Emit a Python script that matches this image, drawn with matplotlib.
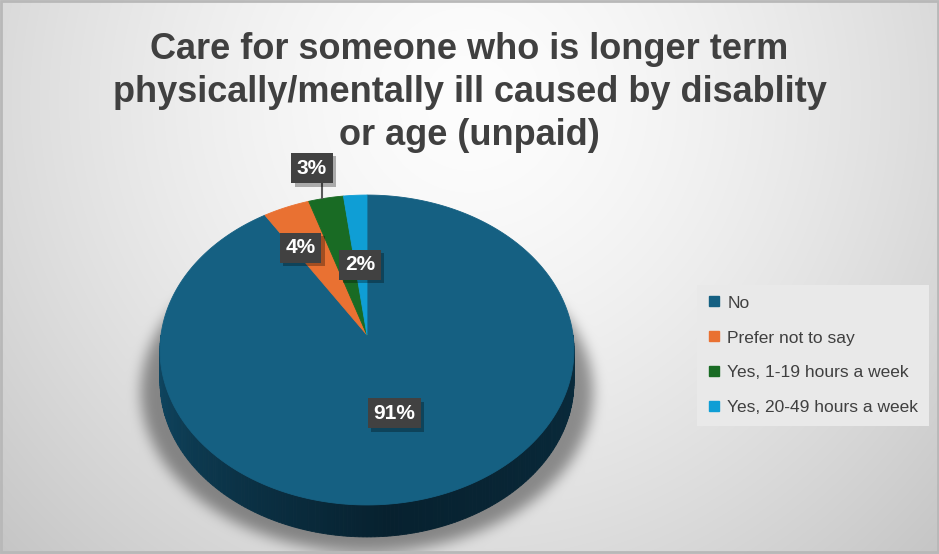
"""3D-style pie: unpaid care for someone who is longer-term ill (Excel look)."""
import matplotlib
matplotlib.use("Agg")
import matplotlib.pyplot as plt
import numpy as np
from matplotlib import patheffects
from matplotlib.lines import Line2D
from matplotlib.patches import Polygon, Rectangle

plt.rcParams["font.family"] = ["Liberation Sans", "DejaVu Sans"]

# --- data -------------------------------------------------------------
categories = ["No", "Prefer not to say", "Yes, 1-19 hours a week",
              "Yes, 20-49 hours a week"]
shares = [91, 4, 3, 2]
labels = ["91%", "4%", "3%", "2%"]
colors = ["#156082", "#E97132", "#196B24", "#0F9ED5"]
title_lines = ["Care for someone who is longer term",
               "physically/mentally ill caused by disablity",
               "or age (unpaid)"]

# --- layout (pixels) --------------------------------------------------
W, H = 939, 554
CX, CY = 367, 335        # pie vertex
RX, RY = 206, 153.5      # semi axes of the tilted disc
K = 0.0968               # perspective factor
DEPTH = 32               # thickness of the pie
# label placement: radius fraction + small nudges (Excel-like)
LABEL_R = [0.5, 0.68, 1.22, 0.48]
LABEL_D = [(-3, 1), (-10, 2), (-6, -3), (-1, 0)]


def proj(t_deg, r=1.0):
    t = np.radians(t_deg)
    u, v = r * np.cos(t), r * np.sin(t)
    d = 1 + K * v
    return CX + RX * u / d, CY - RY * v / d


def box_blur(a, rad):
    k = 2 * rad + 1
    for axis in (0, 1):
        p = np.pad(a, [(rad + 1, rad) if i == axis else (0, 0) for i in (0, 1)],
                   mode="edge")
        c = np.cumsum(p, axis=axis)
        if axis == 0:
            a = (c[k:] - c[:-k]) / k
        else:
            a = (c[:, k:] - c[:, :-k]) / k
    return a


# --- background: radial grey gradient + soft drop shadow --------------
yy, xx = np.mgrid[0:H, 0:W] + 0.5
dist = np.hypot(xx - 470, yy - 100) / 660
bg = 253 - (253 - 196) * np.clip(dist, 0, 1) ** 1.5
shadow = (((xx - 367) / 226) ** 2 + ((yy - 392) / 160) ** 2 <= 1).astype(float)
for _ in range(3):
    shadow = box_blur(shadow, 6)
bg = bg * (1 - 0.4 * shadow)
bg_rgb = np.dstack([bg, bg, bg]) / 255.0

fig = plt.figure(figsize=(W / 100, H / 100), dpi=100)
ax = fig.add_axes([0, 0, 1, 1])
ax.imshow(bg_rgb, extent=(0, W, H, 0), zorder=0, interpolation="bilinear")
ax.set_xlim(0, W)
ax.set_ylim(H, 0)
ax.set_aspect("auto")
ax.axis("off")

# --- pie side (front half only, all of it belongs to "No") -------------
ts = np.linspace(180, 360, 181)
side_dark = np.array([0x07, 0x21, 0x2f]) / 255
side_light = np.array([0x10, 0x4a, 0x66]) / 255
for t0, t1 in zip(ts[:-1], ts[1:]):
    x0, y0 = proj(t0)
    x1, y1 = proj(t1)
    tm = 0.5 * (t0 + t1)
    if tm < 275:
        f = (tm - 180) / 95
    else:
        f = 1 - 0.25 * (tm - 275) / 85
    col = side_light * (1 - f) + side_dark * f
    ax.add_patch(Polygon([(x0, y0), (x1, y1), (x1, y1 + DEPTH), (x0, y0 + DEPTH)],
                         closed=True, fc=col, ec=col, lw=0.6, zorder=2))

# --- top face wedges --------------------------------------------------
fracs = np.array(shares, dtype=float) / sum(shares)
starts = 90 - 360 * np.concatenate([[0], np.cumsum(fracs)[:-1]])
ends = starts - 360 * fracs
mids = 0.5 * (starts + ends)
for a0, a1, col in zip(starts, ends, colors):
    ang = np.linspace(a0, a1, max(3, int(abs(a1 - a0) * 2)))
    px, py = proj(ang)
    pts = np.column_stack([np.r_[CX, px], np.r_[CY, py]])
    ax.add_patch(Polygon(pts, closed=True, fc=col, ec=col, lw=0.6, zorder=3))

# --- data labels --------------------------------------------------------
for i, (lab, mid) in enumerate(zip(labels, mids)):
    lx, ly = proj(mid, LABEL_R[i])
    lx, ly = lx + LABEL_D[i][0], ly + LABEL_D[i][1]
    if LABEL_R[i] > 1:
        ex, ey = proj(mid, 1.0)
        ax.plot([ex - 4, ex - 4], [ey, ly], color="#595959", lw=1.5, zorder=4)
    t = ax.text(lx, ly, lab, ha="center", va="center", fontsize=15,
                fontweight="bold", color="white", zorder=6,
                bbox=dict(boxstyle="square,pad=0.27", fc="#414141",
                          ec="none", lw=0))
    t.get_bbox_patch().set_path_effects([
        patheffects.SimplePatchShadow(offset=(2.5, -2.5), shadow_rgbFace="black",
                                      alpha=0.3),
        patheffects.Normal(),
    ])

# --- title ----------------------------------------------------------------
for k, line in enumerate(title_lines):
    ax.text(469.5, 59 + 43 * k, line, ha="center", va="baseline",
            fontsize=26, fontweight="bold", color="#404040", zorder=6)

# --- legend -----------------------------------------------------------------
handles = [Line2D([], [], marker="s", ls="none", markersize=7, mfc=c, mec=c)
           for c in colors]
leg = ax.legend(handles, categories, loc="upper left",
                bbox_to_anchor=(697, 285), bbox_transform=ax.transData,
                fontsize=12.5, labelcolor="#404040", frameon=True,
                fancybox=False, facecolor="#e9e9e9", edgecolor="none",
                framealpha=1, handlelength=0.8, handletextpad=0.35,
                labelspacing=1.14, borderpad=0.6, borderaxespad=0)
leg.set_zorder(7)

# --- outer border -----------------------------------------------------------
ax.add_patch(Rectangle((1, 1), W - 2, H - 3, fill=False, ec="#b8b8b8", lw=2,
                       zorder=8))

fig.savefig("out.png", dpi=100)
